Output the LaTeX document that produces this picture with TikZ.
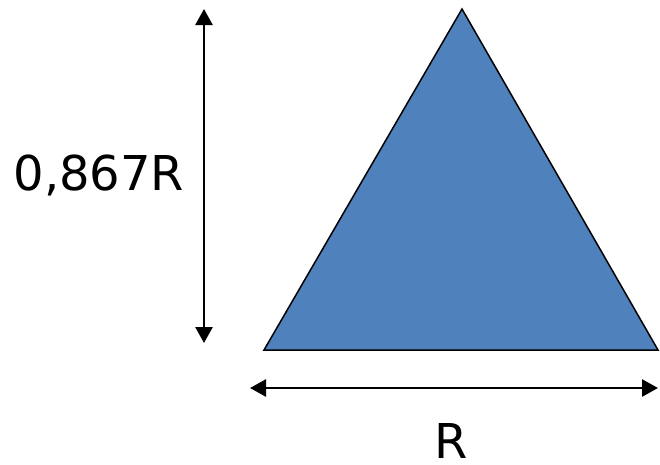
\documentclass[tikz,border=0pt]{standalone}
\usepackage{fontspec}
\setmainfont{DejaVu Sans}
\usetikzlibrary{arrows.meta}
\definecolor{triblue}{HTML}{4F81BD}
\begin{document}
\begin{tikzpicture}[x=1pt,y=-1pt,
  dim/.style={line width=2.6pt,{Triangle[length=16pt,width=17pt]}-{Triangle[length=16pt,width=17pt]}},
  lbl/.style={font=\fontsize{48}{58}\selectfont,inner sep=0pt,anchor=base}]
\useasboundingbox (0,0) rectangle (660,464);
\coordinate (A) at (462,9);
\coordinate (B) at (264,350);
\coordinate (C) at (658,350);
\fill[triblue,draw=black,line width=1.5pt,line join=miter] (A) -- (B) -- (C) -- cycle;
\coordinate (v1) at (204,9);
\coordinate (v2) at (204,343);
\draw[dim] (v1) -- (v2);
\coordinate (h1) at (250,388);
\coordinate (h2) at (658,388);
\draw[dim] (h1) -- (h2);
\node[lbl] (hl) at (99,190) {0,867R};
\node[lbl] (rl) at (451,458) {R};
\end{tikzpicture}
\end{document}
